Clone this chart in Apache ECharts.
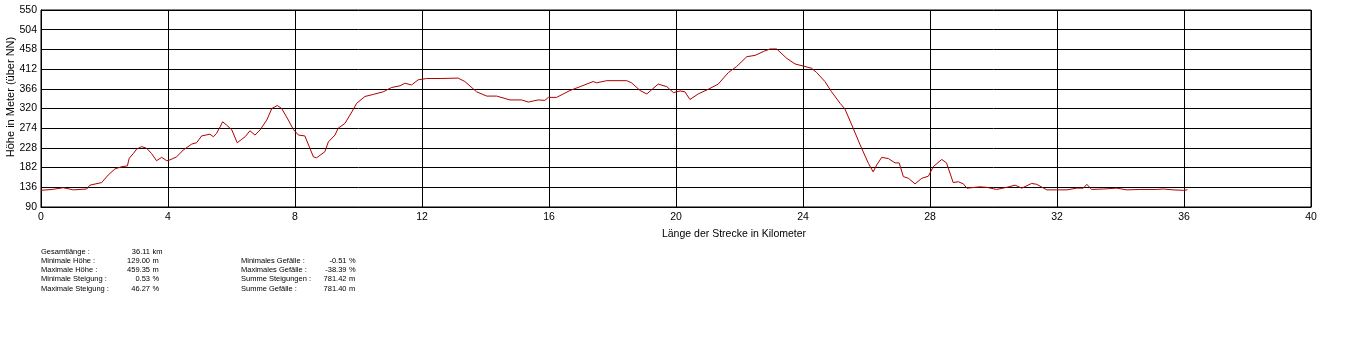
<!DOCTYPE html>
<html>
<head>
<meta charset="utf-8">
<script src="https://cdn.jsdelivr.net/npm/echarts@6/dist/echarts.min.js"></script>
<style>
html,body{margin:0;padding:0;background:#fff;}
#chart{width:1360px;height:338px;}
</style>
</head>
<body>
<div id="chart"></div>
<script>
// Elevation profile: [distance km, elevation m]
const profile = [
[0,129],[0.35,131],[0.70,135],[1.02,130],[1.44,132],[1.54,141],[1.91,147],[2.12,165],[2.33,179],[2.54,184],
[2.72,186],[2.78,204],[2.91,215],[3.01,225],[3.17,231],[3.33,227],[3.48,215],[3.64,198],[3.80,206],[3.96,198],
[4.06,200],[4.27,207],[4.48,223],[4.75,237],[4.90,240],[5.06,256],[5.32,260],[5.43,254],[5.53,262],[5.64,277],
[5.72,289],[5.85,281],[6.01,270],[6.18,240],[6.32,248],[6.43,254],[6.48,250],[6.58,268],[6.74,258],[6.90,270],
[7.11,293],[7.27,320],[7.44,327],[7.58,320],[7.79,293],[7.95,271],[8.11,258],[8.31,256],[8.47,227],[8.58,207],
[8.68,205],[8.94,219],[9.05,242],[9.26,258],[9.36,274],[9.57,285],[9.79,312],[9.94,332],[10.2,348],[10.47,353],
[10.78,359],[11.04,369],[11.31,373],[11.46,379],[11.67,375],[11.88,387],[12.15,390],[12.57,390],[13.14,391],[13.35,383],
[13.72,359],[14.04,349],[14.35,349],[14.77,340],[15.14,340],[15.35,335],[15.66,340],[15.87,339],[15.98,346],[16.24,346],
[16.66,362],[16.98,371],[17.39,383],[17.5,380],[17.82,385],[18.45,385],[18.6,380],[18.87,362],[19.08,354],[19.44,377],
[19.71,371],[19.92,357],[20.13,361],[20.28,359],[20.44,341],[20.70,354],[21.02,365],[21.33,377],[21.65,404],[21.91,418],
[22.23,441],[22.49,444],[22.75,453],[22.96,459],[23.17,459],[23.49,437],[23.75,424],[24.01,419],[24.27,414],[24.43,404],
[24.69,383],[24.90,359],[25.17,332],[25.32,319],[25.58,274],[25.80,235],[26.06,192],[26.21,172],[26.32,188],[26.48,206],
[26.69,203],[26.90,193],[27.03,193],[27.16,161],[27.32,157],[27.53,144],[27.74,157],[27.95,162],[28.10,184],[28.37,201],
[28.52,193],[28.63,169],[28.73,147],[28.89,149],[29.05,144],[29.16,134],[29.57,137],[29.78,136],[30.10,131],[30.42,136],
[30.68,141],[30.89,134],[31.20,145],[31.36,143],[31.68,130],[31.99,130],[32.31,130],[32.62,134],[32.83,134],[32.94,143],
[33.09,131],[33.46,132],[33.88,134],[34.20,130],[34.62,131],[35.14,131],[35.35,132],[35.66,130],[35.98,129],[36.11,130]
];

const yTicks = [90,136,182,228,274,320,366,412,458,504,550];
const xTicks = [0,4,8,12,16,20,24,28,32,36,40];

const xAxisTitle = 'Länge der Strecke in Kilometer';
const yAxisTitle = 'Höhe in Meter (über NN)';

const statLabels1 = ['Gesamtlänge :','Minimale Höhe :','Maximale Höhe :','Minimale Steigung :','Maximale Steigung :'];
const statValues1 = ['36.11','129.00','459.35','0.53','46.27'];
const statUnits1  = ['km','m','m','%','%'];

const statLabels2 = ['Minimales Gefälle :','Maximales Gefälle :','Summe Steigungen :','Summe Gefälle :'];
const statValues2 = ['-0.51','-38.39','781.42','781.40'];
const statUnits2  = ['%','%','m','m'];

const FONT = 'Liberation Sans, Arial, sans-serif';
const statFont = { fontSize: 7.5, fontFamily: FONT, fill: '#000' };

function statTexts(labels, values, units, xLabel, xValue, xUnit, y0, dy) {
  const out = [];
  labels.forEach((l, i) => {
    const y = y0 + i * dy;
    out.push({ type: 'text', left: null, x: xLabel, y: y, style: Object.assign({ text: l, align: 'left', verticalAlign: 'middle' }, statFont) });
    out.push({ type: 'text', x: xValue, y: y, style: Object.assign({ text: values[i], align: 'right', verticalAlign: 'middle' }, statFont) });
    out.push({ type: 'text', x: xUnit, y: y, style: Object.assign({ text: units[i], align: 'left', verticalAlign: 'middle' }, statFont) });
  });
  return out;
}

const graphics = [].concat(
  statTexts(statLabels1, statValues1, statUnits1, 41, 150, 152.5, 251.5, 9.3),
  statTexts(statLabels2, statValues2, statUnits2, 241, 346.5, 349, 260.8, 9.3),
  [
    { type: 'text', x: 11, y: 97, rotation: Math.PI / 2,
      style: { text: yAxisTitle, align: 'center', verticalAlign: 'middle', fontSize: 11, fontFamily: FONT, fill: '#000' } },
    { type: 'text', x: 734, y: 234,
      style: { text: xAxisTitle, align: 'center', verticalAlign: 'middle', fontSize: 10.5, fontFamily: FONT, fill: '#000' } }
  ]
);

const chart = echarts.init(document.getElementById('chart'), null, { renderer: 'canvas' });
chart.setOption({
  animation: false,
  backgroundColor: '#fff',
  grid: { left: 41, right: 49, top: 10, bottom: 131, show: true, borderColor: '#000', borderWidth: 1 },
  xAxis: {
    type: 'value',
    min: xTicks[0], max: xTicks[xTicks.length - 1], interval: xTicks[1] - xTicks[0],
    axisLine: { show: true, lineStyle: { color: '#000', width: 1 } },
    axisTick: { show: false },
    axisLabel: { color: '#000', fontSize: 10.5, fontFamily: FONT, margin: 5 },
    splitLine: { show: true, lineStyle: { color: '#000', width: 1 } }
  },
  yAxis: {
    type: 'value',
    min: yTicks[0], max: yTicks[yTicks.length - 1], interval: yTicks[1] - yTicks[0],
    axisLine: { show: true, lineStyle: { color: '#000', width: 1 } },
    axisTick: { show: false },
    axisLabel: { color: '#000', fontSize: 10.5, fontFamily: FONT, margin: 4 },
    splitLine: { show: true, lineStyle: { color: '#000', width: 1 } }
  },
  series: [{
    type: 'line',
    data: profile,
    showSymbol: false,
    symbol: 'none',
    lineStyle: { color: '#b00000', width: 1 },
    silent: true
  }],
  graphic: graphics
});
</script>
</body>
</html>
